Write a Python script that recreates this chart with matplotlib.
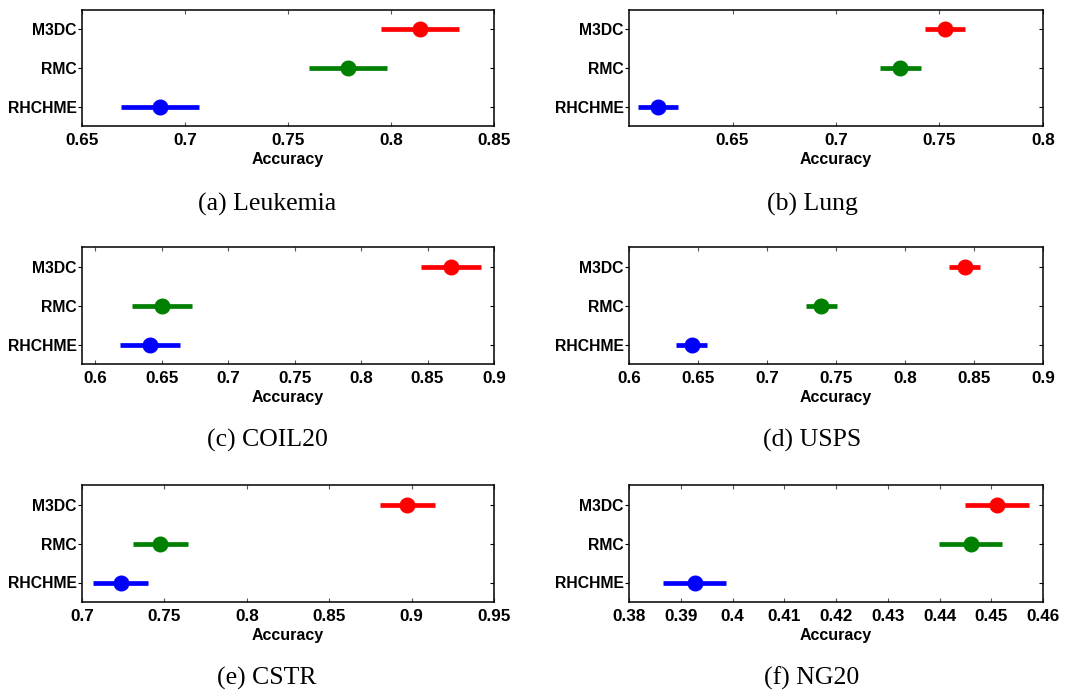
import matplotlib
matplotlib.use("Agg")
import matplotlib.pyplot as plt
from matplotlib.ticker import FuncFormatter

methods = ["RHCHME", "RMC", "M3DC"]
colors = ["#0000ff", "#008000", "#ff0000"]

leukemia_mean = [0.688, 0.779, 0.814]
leukemia_err = [0.019, 0.019, 0.019]
lung_mean = [0.614, 0.731, 0.7525]
lung_err = [0.0098, 0.0099, 0.0097]
coil20_mean = [0.641, 0.650, 0.8675]
coil20_err = [0.0226, 0.0226, 0.0225]
usps_mean = [0.6454, 0.7393, 0.8433]
usps_err = [0.0111, 0.0112, 0.0113]
cstr_mean = [0.7234, 0.7476, 0.8973]
cstr_err = [0.0166, 0.0167, 0.0166]
ng20_mean = [0.3927, 0.446, 0.4511]
ng20_err = [0.0061, 0.0061, 0.0061]

captions = ["(a) Leukemia", "(b) Lung", "(c) COIL20", "(d) USPS", "(e) CSTR", "(f) NG20"]
xlims = [(0.65, 0.85), (0.6, 0.8), (0.59, 0.9), (0.6, 0.9), (0.7, 0.95), (0.38, 0.46)]
xticks = [
    [0.65, 0.7, 0.75, 0.8, 0.85],
    [0.65, 0.7, 0.75, 0.8],
    [0.6, 0.65, 0.7, 0.75, 0.8, 0.85, 0.9],
    [0.6, 0.65, 0.7, 0.75, 0.8, 0.85, 0.9],
    [0.7, 0.75, 0.8, 0.85, 0.9, 0.95],
    [0.38, 0.39, 0.4, 0.41, 0.42, 0.43, 0.44, 0.45, 0.46],
]
means = [leukemia_mean, lung_mean, coil20_mean, usps_mean, cstr_mean, ng20_mean]
errs = [leukemia_err, lung_err, coil20_err, usps_err, cstr_err, ng20_err]

W, H = 1079, 691
fig = plt.figure(figsize=(W / 100, H / 100), dpi=100)

# panel boxes in pixels: left, top, right, bottom
col_x = [(82, 494), (629, 1043)]
row_y = [(10, 126), (247, 364), (485, 602)]
caption_x = [267, 812]
caption_y = [204, 440, 678]

FAMILY = "Liberation Sans"

for i in range(6):
    r, c = divmod(i, 2)
    x0, x1 = col_x[c]
    y0, y1 = row_y[r]
    ax = fig.add_axes([x0 / W, 1 - y1 / H, (x1 - x0) / W, (y1 - y0) / H])
    for k in range(3):
        ax.errorbar(means[i][k], k + 1, xerr=errs[i][k], fmt="o",
                    color=colors[k], ecolor=colors[k], elinewidth=3.4,
                    markersize=10.5, capsize=0, zorder=3)
    ax.set_ylim(0.5, 3.5)
    ax.set_xlim(*xlims[i])
    ax.set_xticks(xticks[i])
    ax.xaxis.set_major_formatter(FuncFormatter(lambda v, p: "%g" % round(v, 4)))
    ax.set_yticks([1, 2, 3])
    ax.set_yticklabels(methods)
    for lab in ax.get_xticklabels():
        lab.set_fontfamily(FAMILY)
        lab.set_fontweight("bold")
        lab.set_fontsize(12.3)
    for lab in ax.get_yticklabels():
        lab.set_fontfamily(FAMILY)
        lab.set_fontweight("bold")
        lab.set_fontsize(11.3)
    ax.tick_params(axis="x", direction="in", top=True, bottom=True,
                   length=3, width=0.8, pad=5, colors="#555555", labelcolor="black")
    ax.tick_params(axis="y", left=True, right=True, direction="out",
                   length=3, width=0.8, pad=1, colors="black")
    # right-side ticks point inward
    for tl in ax.yaxis.get_major_ticks():
        tl.tick2line.set_marker(matplotlib.lines.TICKLEFT)
    ax.set_xlabel("Accuracy", fontfamily=FAMILY, fontweight="bold",
                  fontsize=11.5, labelpad=3)
    for s in ax.spines.values():
        s.set_linewidth(1.1)
        s.set_color("black")
    fig.text(caption_x[c] / W, 1 - caption_y[r] / H, captions[i],
             family="Liberation Serif", fontsize=18.5, ha="center", va="center")

fig.savefig("out.png", dpi=100)
